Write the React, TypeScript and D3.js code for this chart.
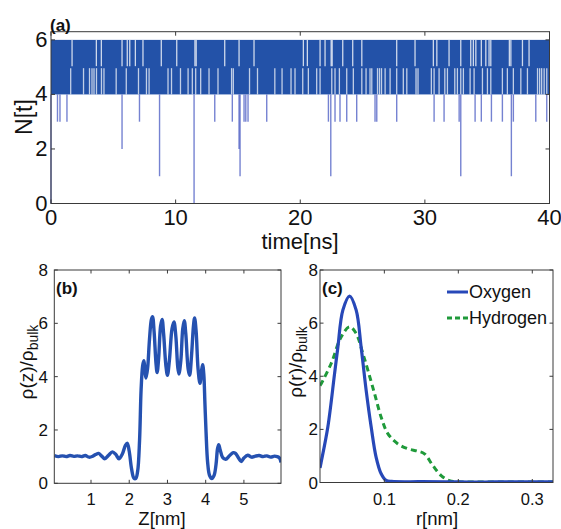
import React from "react";
import * as d3 from "d3";

// ---------- Panel (a): N[t] vs time ----------
const timeTicks = [0, 10, 20, 30, 40];
const nTicks = [0, 2, 4, 6];
const bandLow = 4;
const bandMid = 5;
const bandHigh = 6;
// times (ns) where the trace stays below 6 (white gaps in the 5-6 strip)
const upperGaps = [1.69, 3.64, 4.04, 5.7, 6.12, 6.32, 6.77, 7.38, 8.85, 10.09, 11.55, 11.65, 13.94, 15.09, 16.29, 20.25, 20.57, 21.59, 21.99, 22.48, 22.56, 23.41, 24.21, 24.94, 27.74, 29.21, 30.68, 30.96, 31.94, 32.88, 33.68, 33.89, 34.09, 34.53, 34.89, 35.15, 35.29, 36.78, 36.9, 37.83, 38.36];
// times (ns) where the trace stays above 5 (white gaps in the 4-5 strip)
const lowerGaps = [1.58, 2.61, 3.09, 3.29, 3.45, 3.65, 4.05, 4.25, 5.23, 6.04, 7.02, 7.66, 7.87, 9.39, 9.67, 10.39, 11.0, 11.34, 11.61, 12.01, 12.68, 13.4, 14.49, 14.63, 15.93, 16.57, 17.96, 18.54, 19.26, 19.58, 20.2, 20.65, 21.32, 21.59, 22.53, 22.79, 23.14, 23.73, 24.26, 24.94, 25.28, 25.6, 25.74, 26.2, 26.36, 26.52, 26.81, 27.21, 27.74, 28.27, 28.55, 29.29, 29.45, 30.52, 30.74, 31.14, 31.6, 31.81, 32.4, 32.61, 32.88, 33.09, 33.63, 33.95, 34.62, 35.02, 35.29, 36.22, 36.62, 37.1, 37.7, 38.23, 39.04, 39.21, 39.37, 39.57, 39.78];
// short excursions below 4
const dipTimes = [0.0, 0.52, 0.72, 1.28, 5.7, 7.1, 8.71, 11.48, 13.14, 14.55, 15.09, 15.17, 15.49, 15.63, 15.81, 17.31, 22.26, 22.45, 22.79, 23.19, 23.73, 24.53, 26.0, 26.14, 27.74, 30.74, 31.54, 32.75, 32.88, 34.03, 34.53, 35.34, 36.22, 36.94, 37.1, 38.9, 39.78];
const dipMins = [0, 3, 3, 3, 2, 3, 1, 0, 3, 3, 2, 1, 3, 3, 3, 3, 3, 1, 3, 3, 3, 3, 3, 3, 3, 3, 3, 3, 1, 3, 3, 3, 3, 1, 3, 3, 3];

// ---------- Panel (b): density profile along z ----------
const zTicks = [1, 2, 3, 4, 5];
const rhoTicks = [0, 2, 4, 6, 8];
const zNm = [0.04, 0.15, 0.25, 0.35, 0.45, 0.55, 0.65, 0.75, 0.85, 0.95, 1.05, 1.12, 1.2, 1.28, 1.36, 1.46, 1.56, 1.65, 1.73, 1.82, 1.9, 1.95, 2.0, 2.06, 2.12, 2.17, 2.22, 2.27, 2.31, 2.35, 2.38, 2.42, 2.44, 2.48, 2.53, 2.58, 2.61, 2.65, 2.7, 2.73, 2.77, 2.82, 2.86, 2.9, 2.96, 3.0, 3.05, 3.12, 3.17, 3.22, 3.27, 3.3, 3.35, 3.4, 3.44, 3.48, 3.54, 3.58, 3.63, 3.68, 3.71, 3.75, 3.8, 3.85, 3.89, 3.92, 3.95, 3.98, 4.01, 4.05, 4.1, 4.16, 4.22, 4.27, 4.31, 4.34, 4.38, 4.44, 4.52, 4.62, 4.72, 4.78, 4.86, 4.93, 5.0, 5.1, 5.2, 5.3, 5.4, 5.5, 5.6, 5.7, 5.8, 5.87, 5.93, 5.97];
const rhoZ = [1.04, 1.0, 1.03, 1.0, 1.04, 1.01, 1.03, 1.0, 1.04, 0.98, 1.02, 1.08, 1.12, 1.02, 0.92, 1.05, 1.18, 1.08, 0.92, 1.1, 1.42, 1.5, 1.2, 0.55, 0.2, 0.18, 0.45, 1.6, 3.5, 4.4, 4.6, 4.1, 3.95, 4.3, 5.4, 6.15, 6.25, 5.7, 4.5, 4.15, 4.7, 5.9, 6.15, 5.6, 4.4, 4.05, 4.6, 5.8, 6.05, 5.5, 4.35, 4.1, 4.6, 5.8, 6.1, 5.6, 4.3, 4.05, 4.8, 5.9, 6.2, 5.7, 4.3, 3.75, 4.2, 4.45, 4.1, 3.0, 1.9, 0.8, 0.3, 0.18, 0.3, 0.7, 1.3, 1.45, 1.25, 0.98, 0.9, 1.03, 1.15, 1.12, 0.95, 0.82, 0.95, 1.05, 0.98, 1.02, 1.04, 1.0, 1.03, 0.98, 1.02, 1.0, 0.95, 0.78];

// ---------- Panel (c): radial density ----------
const rTicks = [0.1, 0.2, 0.3];
const seriesNames = ["Oxygen", "Hydrogen"];
const rOxygen = [0.013, 0.0146, 0.0236, 0.0327, 0.0372, 0.0439, 0.053, 0.0619, 0.0686, 0.0754, 0.0822, 0.0889, 0.0957, 0.1024, 0.11, 0.15, 0.2, 0.25, 0.3, 0.328];
const rhoOxygen = [0.55, 0.77, 2.09, 4.1, 5.1, 6.49, 7.02, 6.49, 5.1, 3.47, 2.09, 0.95, 0.33, 0.08, 0.04, 0.03, 0.02, 0.02, 0.02, 0.02];
const rHydrogen = [0.013, 0.0146, 0.0281, 0.0416, 0.053, 0.0619, 0.0709, 0.0777, 0.0867, 0.0957, 0.1047, 0.118, 0.1318, 0.1453, 0.1543, 0.1655, 0.1768, 0.188, 0.2, 0.22, 0.26, 0.3, 0.328];
const rhoHydrogen = [3.65, 3.72, 4.48, 5.48, 5.86, 5.61, 4.86, 4.23, 3.35, 2.46, 1.84, 1.46, 1.27, 1.18, 1.08, 0.64, 0.26, 0.07, 0.03, 0.02, 0.02, 0.02, 0.02];

const FONT = "'Liberation Sans Narrow', 'Arial Narrow', 'Liberation Sans', Arial, sans-serif";
const AXIS = "#3a3a3a";
const BAND_BLUE = "#2352a8";
const LINE_BLUE = "#2551b0";
const OXY_BLUE = "#2748b8";
const HYD_GREEN = "#1f9a3a";

type Lin = d3.ScaleLinear<number, number>;

function Box({ x, y, xt, yt, tl }: { x: Lin; y: Lin; xt: number[]; yt: number[]; tl: number }) {
  const [x0, x1] = x.range();
  const [y0, y1] = y.range();
  return (
    <g stroke={AXIS} strokeWidth={1} fill="none">
      {xt.map((t) => (
        <g key={"x" + t}>
          <line x1={x(t)} x2={x(t)} y1={y0} y2={y0 - tl} />
          <line x1={x(t)} x2={x(t)} y1={y1} y2={y1 + tl} />
        </g>
      ))}
      {yt.map((t) => (
        <g key={"y" + t}>
          <line x1={x0} x2={x0 + tl} y1={y(t)} y2={y(t)} />
          <line x1={x1} x2={x1 - tl} y1={y(t)} y2={y(t)} />
        </g>
      ))}
      <rect x={x0} y={y1} width={x1 - x0} height={y0 - y1} />
    </g>
  );
}

export default function App() {
  // panel a
  const xA = d3.scaleLinear().domain([0, 40]).range([51, 549.5]);
  const yA = d3.scaleLinear().domain([0, 6.3]).range([203.5, 31.7]);
  // panel b
  const xB = d3.scaleLinear().domain([0.04, 5.97]).range([54.3, 281]);
  const yB = d3.scaleLinear().domain([0, 8]).range([483.3, 270]);
  // panel c
  const xC = d3.scaleLinear().domain([0.013, 0.328]).range([320, 553]);
  const yC = d3.scaleLinear().domain([0, 8]).range([482.5, 270]);

  const lineB = d3
    .line<number>()
    .x((_, i) => xB(zNm[i]))
    .y((v) => yB(v))
    .curve(d3.curveCatmullRom.alpha(0.5));
  const lineO = d3
    .line<number>()
    .x((_, i) => xC(rOxygen[i]))
    .y((v) => yC(v))
    .curve(d3.curveCatmullRom.alpha(0.5));
  const lineH = d3
    .line<number>()
    .x((_, i) => xC(rHydrogen[i]))
    .y((v) => yC(v))
    .curve(d3.curveCatmullRom.alpha(0.5));

  const subLabel = (main: string, x: number, y: number) => (
    <text
      transform={`translate(${x},${y}) rotate(-90)`}
      textAnchor="middle"
      fontSize={19}
      fontFamily={FONT}
      fill="#111"
    >
      {main}
      <tspan fontSize={14} dy={5}>bulk</tspan>
    </text>
  );

  return (
    <svg
      width={561}
      height={529}
      style={{ position: "absolute", left: 0, top: 0, background: "#fff" }}
      fontFamily={FONT}
    >
      <defs>
        <clipPath id="clipB">
          <rect x={54.3} y={270} width={281 - 54.3} height={213.3} />
        </clipPath>
        <clipPath id="clipC">
          <rect x={320} y={270} width={233} height={212.5} />
        </clipPath>
      </defs>

      {/* ---------- Panel (a) ---------- */}
      <rect
        x={xA(0)}
        y={yA(bandHigh)}
        width={xA(40) - xA(0)}
        height={yA(bandLow) - yA(bandHigh)}
        fill={BAND_BLUE}
      />
      {upperGaps.map((t, i) => (
        <line
          key={"ug" + i}
          x1={xA(t)}
          x2={xA(t)}
          y1={yA(bandHigh)}
          y2={yA(bandMid) - 1}
          stroke="#ffffff"
          strokeOpacity={0.78}
          strokeWidth={1.3}
        />
      ))}
      {lowerGaps.map((t, i) => (
        <line
          key={"lg" + i}
          x1={xA(t)}
          x2={xA(t)}
          y1={yA(bandMid) + 1}
          y2={yA(bandLow)}
          stroke="#ffffff"
          strokeOpacity={0.72}
          strokeWidth={1.3}
        />
      ))}
      {dipTimes.map((t, i) => (
        <line
          key={"dp" + i}
          x1={xA(t)}
          x2={xA(t)}
          y1={yA(bandLow)}
          y2={yA(dipMins[i])}
          stroke="#3347bb"
          strokeOpacity={0.68}
          strokeWidth={1.4}
        />
      ))}
      <Box x={xA} y={yA} xt={timeTicks} yt={nTicks} tl={4} />
      {timeTicks.map((t) => (
        <text key={"xa" + t} x={xA(t)} y={225} textAnchor="middle" fontSize={22} fill="#111">
          {t}
        </text>
      ))}
      {nTicks.map((t) => (
        <text key={"ya" + t} x={47.5} y={yA(t) + 7} textAnchor="end" fontSize={22} fill="#111">
          {t}
        </text>
      ))}
      <text x={300} y={248.5} textAnchor="middle" fontSize={22} fill="#111">
        time[ns]
      </text>
      <text
        transform={`translate(32,117) rotate(-90)`}
        textAnchor="middle"
        fontSize={23}
        fill="#111"
      >
        N[t]
      </text>
      <text x={50} y={31} fontSize={17} fontWeight="bold" fill="#111">
        (a)
      </text>

      {/* ---------- Panel (b) ---------- */}
      <path
        d={lineB(rhoZ) || ""}
        fill="none"
        stroke={LINE_BLUE}
        strokeWidth={3.4}
        strokeLinejoin="round"
        clipPath="url(#clipB)"
      />
      <Box x={xB} y={yB} xt={zTicks} yt={rhoTicks} tl={3.5} />
      {zTicks.map((t) => (
        <text key={"xb" + t} x={xB(t)} y={505} textAnchor="middle" fontSize={16.5} fill="#111">
          {t}
        </text>
      ))}
      {rhoTicks.map((t) => (
        <text key={"yb" + t} x={48} y={yB(t) + 6} textAnchor="end" fontSize={17} fill="#111">
          {t}
        </text>
      ))}
      <text x={162} y={525} textAnchor="middle" fontSize={18.5} fill="#111">
        Z[nm]
      </text>
      {subLabel("ρ(z)/ρ", 33, 362)}
      <text x={56} y={294} fontSize={17} fontWeight="bold" fill="#111">
        (b)
      </text>

      {/* ---------- Panel (c) ---------- */}
      <path
        d={lineH(rhoHydrogen) || ""}
        fill="none"
        stroke={HYD_GREEN}
        strokeWidth={3}
        strokeDasharray="6,4"
        clipPath="url(#clipC)"
      />
      <path
        d={lineO(rhoOxygen) || ""}
        fill="none"
        stroke={OXY_BLUE}
        strokeWidth={3.2}
        strokeLinejoin="round"
        clipPath="url(#clipC)"
      />
      <Box x={xC} y={yC} xt={rTicks} yt={rhoTicks} tl={3.5} />
      {rTicks.map((t) => (
        <text key={"xc" + t} x={xC(t)} y={505} textAnchor="middle" fontSize={16.5} fill="#111">
          {t}
        </text>
      ))}
      {rhoTicks.map((t) => (
        <text key={"yc" + t} x={318} y={yC(t) + 6} textAnchor="end" fontSize={17} fill="#111">
          {t}
        </text>
      ))}
      <text x={437} y={525} textAnchor="middle" fontSize={18.5} fill="#111">
        r[nm]
      </text>
      {subLabel("ρ(r)/ρ", 302, 362)}
      <text x={322} y={294} fontSize={17} fontWeight="bold" fill="#111">
        (c)
      </text>
      {/* legend */}
      {seriesNames.map((name, i) => (
        <g key={name}>
          <line
            x1={447}
            x2={468}
            y1={292 + i * 26}
            y2={292 + i * 26}
            stroke={i === 0 ? OXY_BLUE : HYD_GREEN}
            strokeWidth={3}
            strokeDasharray={i === 0 ? undefined : "5,3"}
          />
          <text x={469} y={298 + i * 26} fontSize={18} fill="#111">
            {name}
          </text>
        </g>
      ))}
    </svg>
  );
}
